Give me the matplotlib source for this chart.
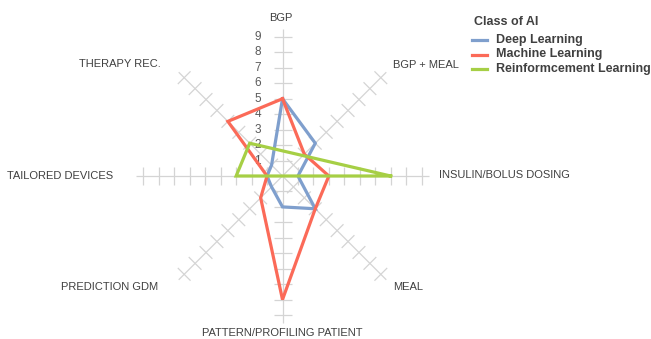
import numpy as np
import matplotlib
matplotlib.use("Agg")
import matplotlib.pyplot as plt

# Categories around the radar, clockwise from the top
categories = ["BGP", "BGP + MEAL", "INSULIN/BOLUS DOSING", "MEAL",
              "PATTERN/PROFILING PATIENT", "PREDICTION GDM",
              "TAILORED DEVICES", "THERAPY REC."]

# Number of studies per category and class of AI (NaN = no value)
deep_learning = [5, 3, 1, 3, 2, 1, 1, 1]
machine_learning = [5, 2, 3, 3, 8, 2, 1, 5]
reinforcement_learning = [np.nan, np.nan, 7, np.nan, np.nan, np.nan, 3, 3]

series_names = ["Deep Learning", "Machine Learning", "Reinformcement Learning"]
series_values = [deep_learning, machine_learning, reinforcement_learning]
series_colors = ["#7f9fcd", "#fb6a58", "#a6cf45"]

tick_values = [1, 2, 3, 4, 5, 6, 7, 8, 9]
axis_max = 9.5

W, H = 651, 339
CX, CY, S = 282.5, 176.0, 15.45  # chart centre (px) and pixels per unit

fig = plt.figure(figsize=(W / 100, H / 100), dpi=100)
ax = fig.add_axes([0, 0, 1, 1])
ax.set_xlim(-CX / S, (W - CX) / S)
ax.set_ylim(-(H - CY) / S, CY / S)
ax.axis("off")

n = len(categories)
angles = np.arange(n) * 2 * np.pi / n
dirs = np.column_stack([np.sin(angles), np.cos(angles)])

def px(xp, yp):
    return (xp - CX) / S, (CY - yp) / S

grid_color = "#d4d4d4"
half = 9 / S
for d in dirs:
    ax.plot([0, d[0] * axis_max], [0, d[1] * axis_max], color=grid_color,
            lw=0.9, zorder=1, solid_capstyle="butt")
    perp = np.array([-d[1], d[0]])
    for t in tick_values:
        p = d * t
        ax.plot([p[0] - perp[0] * half, p[0] + perp[0] * half],
                [p[1] - perp[1] * half, p[1] + perp[1] * half],
                color=grid_color, lw=0.9, zorder=1, solid_capstyle="butt")

# radial scale labels along the top spoke
for t in tick_values:
    ax.text(px(261, 0)[0], t, str(t), ha="right", va="center",
            fontsize=8.5, color="#595959", family="Liberation Sans", zorder=2)

# category labels
label_layout = [
    (281, 18, "center"), (393, 65, "left"), (439, 175, "left"),
    (393, 287, "left"), (282, 333, "center"), (158, 287, "right"),
    (113, 176, "right"), (161, 64, "right"),
]
for name, (xp, yp, ha) in zip(categories, label_layout):
    x, y = px(xp, yp)
    ax.text(x, y, name, ha=ha, va="center", fontsize=8, color="#404040",
            family="Liberation Sans")

# data series; missing values are skipped and neighbours joined
for vals, col in zip(series_values, series_colors):
    v = np.asarray(vals, dtype=float)
    keep = ~np.isnan(v)
    pts = dirs[keep] * v[keep][:, None]
    pts = np.vstack([pts, pts[:1]])
    ax.plot(pts[:, 0], pts[:, 1], color=col, lw=2.3, zorder=3,
            solid_joinstyle="miter")

# legend
def fxy(xp, yp):
    return xp / W, 1 - yp / H

fig.text(*fxy(474, 22), "Class of AI", ha="left", va="center", fontsize=9,
         fontweight="bold", color="#404040", family="Liberation Sans")
for i, (name, col) in enumerate(zip(series_names, series_colors)):
    yp = 40 + i * 14.5
    x0, y0 = fxy(471.7, yp)
    x1, _ = fxy(486.7, yp)
    fig.add_artist(plt.Line2D([x0, x1], [y0, y0], color=col, lw=2.3,
                              transform=fig.transFigure))
    fig.text(*fxy(495.7, yp), name, ha="left", va="center", fontsize=9,
             fontweight="bold", color="#404040", family="Liberation Sans")

fig.savefig("out.png", dpi=100)
